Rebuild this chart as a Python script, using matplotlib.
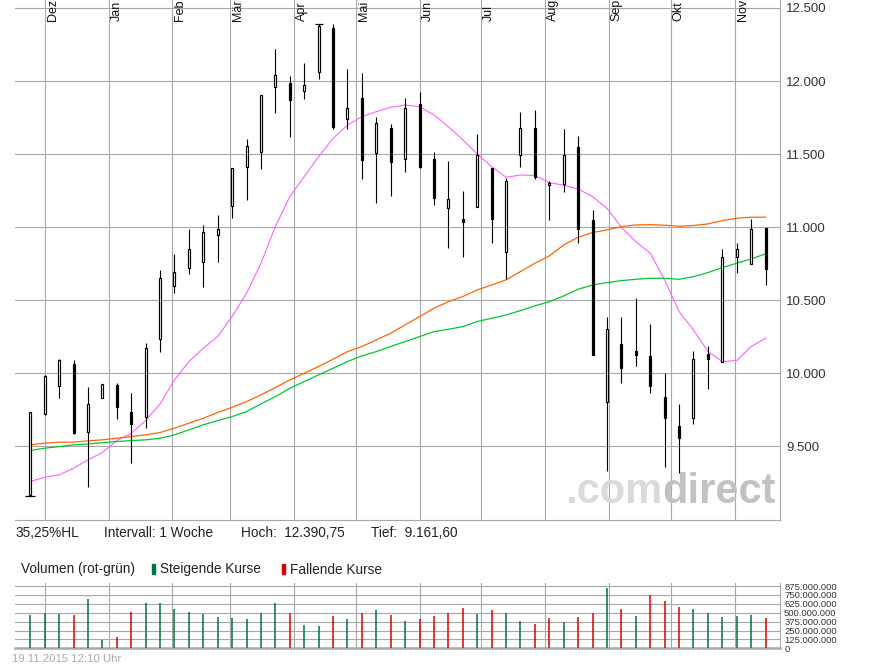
import matplotlib
matplotlib.use('Agg')
import matplotlib.pyplot as plt
import matplotlib.dates as mdates
import matplotlib.transforms as mtransforms
import numpy as np
import pandas as pd
from matplotlib.ticker import FuncFormatter

plt.rcParams['font.family'] = ['Liberation Sans', 'DejaVu Sans']

# weekly candles (Monday of each week)
weeks = pd.date_range('2014-11-24', periods=52, freq='7D')

opens = [9165, 9719, 9916, 10062, 9601, 9829, 9918, 9733, 9699, 10233,
         10598, 10719, 10764, 10944, 11147, 11410, 11512, 11957, 11984, 11930,
         12060, 12361, 11738, 11882, 11505, 11679, 11464, 11841, 11464, 11129,
         11056, 11136, 11405, 10828, 11492, 11677, 11289, 11293, 11549, 11049,
         9806, 10201, 10153, 10119, 9838, 9640, 9692, 10132, 10080, 10794,
         10750, 10995]
highs = [9733, 9990, 10096, 10091, 9904, 9925, 9936, 9863, 10205, 10707,
         10814, 10985, 11013, 11083, 11403, 11601, 11902, 12219, 12032, 12124,
         12390.75, 12388, 12083, 12057, 11754, 11706, 11884, 11925, 11515, 11453,
         11248, 11638, 11405, 11334, 11788, 11802, 11316, 11672, 11624, 11118,
         10385, 10385, 10513, 10338, 10000, 9790, 10153, 10187, 10853, 10892,
         11056, 10995]
lows = [9161.6, 9715, 9833, 9585, 9218, 9829, 9685, 9384, 9624, 10148,
        10552, 10677, 10593, 10764, 11065, 11186, 11398, 11784, 11620, 11880,
        12016, 11674, 11674, 11332, 11168, 11216, 11380, 11403, 11154, 10860,
        10798, 11136, 10894, 10648, 11414, 11330, 11049, 11243, 10894, 10123,
        9334, 9932, 10052, 9863, 9361, 9320, 9651, 9891, 10080, 10689,
        10750, 10604]
closes = [9733, 9982, 10091, 9594, 9788, 9925, 9767, 9651, 10171, 10650,
          10696, 10849, 10965, 10990, 11403, 11556, 11902, 12039, 11868, 11971,
          12377, 11686, 11813, 11458, 11711, 11448, 11813, 11414, 11200, 11192,
          11038, 11494, 11058, 11316, 11677, 11346, 11305, 11494, 10985, 10123,
          10301, 10039, 10123, 9916, 9692, 9555, 10098, 10100, 10796, 10851,
          10985, 10712]

# weekly volume in millions
volume_mio = [463, 496, 481, 463, 692, 117, 159, 510, 636, 636,
              552, 510, 481, 440, 425, 411, 496, 636, 496, 327,
              313, 454, 411, 496, 538, 468, 383, 411, 454, 496,
              566, 481, 538, 496, 383, 341, 425, 369, 440, 496,
              847, 552, 454, 748, 664, 580, 552, 496, 440, 454,
              468, 425]

# moving averages
ma_magenta = [9259, 9288, 9304, 9350, 9407, 9457, 9539, 9589, 9676, 9790,
              9954, 10080, 10171, 10251, 10388, 10547, 10753, 11004, 11209, 11346,
              11483, 11608, 11699, 11756, 11791, 11820, 11836, 11825, 11768, 11688,
              11597, 11501, 11414, 11341, 11357, 11353, 11305, 11287, 11261, 11209,
              11129, 10999, 10901, 10821, 10639, 10422, 10297, 10149, 10080, 10087,
              10183, 10240]
ma_orange = [9510, 9521, 9528, 9528, 9537, 9544, 9555, 9567, 9578, 9594,
             9624, 9658, 9692, 9731, 9767, 9806, 9852, 9902, 9954, 10000,
             10046, 10096, 10148, 10183, 10228, 10274, 10331, 10388, 10445, 10490,
             10525, 10570, 10604, 10639, 10696, 10753, 10803, 10878, 10931, 10963,
             10981, 11004, 11015, 11017, 11013, 11006, 11011, 11022, 11045, 11061,
             11068, 11068]
ma_green = [9471, 9487, 9498, 9510, 9516, 9525, 9532, 9539, 9544, 9555,
            9578, 9612, 9647, 9676, 9703, 9738, 9790, 9840, 9897, 9943,
            9989, 10034, 10080, 10119, 10148, 10183, 10217, 10251, 10285, 10301,
            10319, 10354, 10376, 10399, 10429, 10461, 10490, 10529, 10575, 10604,
            10620, 10634, 10643, 10650, 10650, 10643, 10661, 10689, 10723, 10753,
            10783, 10817]

month_names = ['Dez', 'Jan', 'Feb', 'Mär', 'Apr', 'Mai', 'Jun', 'Jul',
               'Aug', 'Sep', 'Okt', 'Nov']
month_starts = pd.date_range('2014-12-01', periods=12, freq='MS')
price_ticks = [9500, 10000, 10500, 11000, 11500, 12000, 12500]
volume_ticks = [0, 125, 250, 375, 500, 625, 750, 875]

grid_col = '#a8a8a8'
col_up = '#00703c'
col_down = '#dd0000'

W, H = 895, 669
fig = plt.figure(figsize=(W / 100, H / 100), dpi=100)


def box(left, top, right, bottom):
    return [left / W, 1 - bottom / H, (right - left) / W, (bottom - top) / H]


def dots(v, pos=None):
    return f'{v:,.0f}'.replace(',', '.')


ax = fig.add_axes(box(15, 0, 780, 520))
axv = fig.add_axes(box(15, 583, 780, 648.3))

x = mdates.date2num(weeks.to_pydatetime())
xm = mdates.date2num(month_starts.to_pydatetime())
xlim = (xm[0] - 14.42, xm[-1] + 22.0)

o = np.array(opens)
c = np.array(closes)
up = c >= o

# --- price panel ---
ax.vlines(x, lows, highs, color='black', lw=0.8, zorder=3)
body_w = 0.97
ax.bar(x[up], (c - o)[up], bottom=o[up], width=body_w, facecolor='white',
       edgecolor='black', lw=0.85, zorder=4)
ax.bar(x[~up], (o - c)[~up], bottom=c[~up], width=body_w, facecolor='black',
       edgecolor='black', lw=0.85, zorder=4)

# high / low markers
i_hi = int(np.argmax(highs))
i_lo = int(np.argmin(lows))
ax.hlines(highs[i_hi], x[i_hi] - 2.0, x[i_hi] + 2.0, color='black', lw=0.9, zorder=4)
ax.hlines(lows[i_lo], x[i_lo] - 2.5, x[i_lo] + 2.5, color='black', lw=0.9, zorder=4)

ax.plot(x, ma_magenta, color='#ff60ff', lw=0.8, zorder=2.5)
ax.plot(x, ma_orange, color='#ff6600', lw=0.9, zorder=2.5)
ax.plot(x, ma_green, color='#00c832', lw=0.9, zorder=2.5)

ax.set_xlim(xlim)
ax.set_ylim(12500 - 512 * 6.845, 12500 + 8 * 6.845)
ax.set_yticks(price_ticks)
ax.yaxis.set_major_formatter(FuncFormatter(dots))
ax.yaxis.tick_right()
ax.tick_params(axis='y', length=0, pad=4.3, labelsize=9.5, labelcolor='#333333')
ax.set_xticks(xm)
ax.tick_params(axis='x', length=0, labelbottom=False)
ax.grid(True, color=grid_col, lw=0.8)
ax.set_axisbelow(True)
for side in ['left', 'top']:
    ax.spines[side].set_visible(False)
for side in ['right', 'bottom']:
    ax.spines[side].set_color(grid_col)
    ax.spines[side].set_linewidth(0.8)

trans = mtransforms.blended_transform_factory(ax.transData, ax.transAxes)
for xv, name in zip(xm, month_names):
    ax.text(xv + 0.9, 1 - 21 / 520, name, rotation=90, ha='left', va='bottom',
            fontsize=9, color='#111111', transform=trans)

# watermark
wm = ax.text(565 / W, 1 - 503 / H, '.com', transform=fig.transFigure,
             fontsize=30, fontweight='bold', color='#dadada', va='baseline',
             ha='left', zorder=1)
ax.annotate('direct', xy=(1, 0), xycoords=wm, fontsize=30, fontweight='bold',
            color='#c2c2c2', va='bottom', ha='left', zorder=1)

# --- volume panel ---
vol_col = [col_up] + [col_up if c[i] >= c[i - 1] else col_down for i in range(1, len(c))]
axv.vlines(x, 0, volume_mio, colors=vol_col, lw=1.1, zorder=3)
axv.set_xlim(xlim)
axv.set_ylim(0, 875 + 3 * 875 / 62.3)
axv.set_yticks(volume_ticks)
axv.yaxis.set_major_formatter(FuncFormatter(lambda v, p: dots(v * 1e6)))
axv.yaxis.tick_right()
axv.tick_params(axis='y', length=0, pad=3, labelsize=6.8, labelcolor='#333333')
axv.set_xticks(xm)
axv.tick_params(axis='x', length=0, labelbottom=False)
axv.grid(True, color=grid_col, lw=0.8)
axv.set_axisbelow(True)
for side in ['left', 'top']:
    axv.spines[side].set_visible(False)
axv.spines['right'].set_color(grid_col)
axv.spines['right'].set_linewidth(0.8)
axv.spines['bottom'].set_color(grid_col)
axv.spines['bottom'].set_linewidth(1.8)


# --- text rows ---
def ftext(px, py, s, **kw):
    fig.text(px / W, 1 - py / H, s, va='baseline', ha='left', **kw)


ftext(16, 537, '35,25%HL', fontsize=9.8, color='#222222')
ftext(104, 537, 'Intervall: 1 Woche', fontsize=9.8, color='#222222')
ftext(241, 537, 'Hoch:  12.390,75', fontsize=9.8, color='#222222')
ftext(371, 537, 'Tief:  9.161,60', fontsize=9.8, color='#222222')

ftext(21, 573.5, 'Volumen (rot-grün)', fontsize=9.8, color='#222222')
fig.patches.append(plt.Rectangle((152 / W, 1 - 573.5 / H), 2.7 / W, 10 / H,
                                 transform=fig.transFigure, color=col_up))
ftext(160, 573.5, 'Steigende Kurse', fontsize=9.8, color='#222222')
fig.patches.append(plt.Rectangle((282 / W, 1 - 573.5 / H), 2.7 / W, 10 / H,
                                 transform=fig.transFigure, color=col_down))
ftext(290, 573.5, 'Fallende Kurse', fontsize=9.8, color='#222222')

ftext(12, 661.5, '19.11.2015 12:10 Uhr', fontsize=8.1, color='#aaaaaa')

fig.savefig('out.png', dpi=100)
